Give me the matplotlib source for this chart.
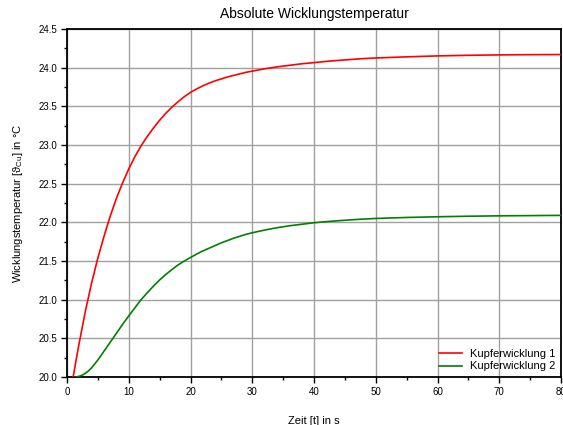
import matplotlib
matplotlib.use("Agg")
import matplotlib.pyplot as plt
from matplotlib.ticker import MultipleLocator, FormatStrFormatter

plt.rcParams['font.family'] = ['Liberation Sans', 'DejaVu Sans']
plt.rcParams['mathtext.fontset'] = 'custom'
plt.rcParams['mathtext.rm'] = 'Liberation Sans'
plt.rcParams['mathtext.it'] = 'Liberation Sans'

t1 = [1, 1.5, 2, 3, 4, 5, 6, 7, 8, 9, 10, 11, 12, 13, 14, 15, 16, 17, 18, 19, 20,
      21, 22, 23, 24, 25, 26, 27, 28, 29, 30, 32, 34, 36, 38, 40, 42.5, 45, 47.5, 50,
      55, 60, 65, 70, 75, 80]
temp1 = [20.0, 20.23, 20.45, 20.86, 21.22, 21.54, 21.82, 22.08, 22.31, 22.51, 22.69,
         22.85, 22.99, 23.11, 23.22, 23.32, 23.41, 23.49, 23.56, 23.625, 23.68,
         23.725, 23.765, 23.80, 23.83, 23.855, 23.88, 23.90, 23.92, 23.94, 23.955,
         23.985, 24.01, 24.03, 24.05, 24.065, 24.085, 24.10, 24.115, 24.125,
         24.14, 24.152, 24.16, 24.165, 24.168, 24.17]
t2 = [1.5, 2, 2.5, 3, 3.5, 4, 4.5, 5, 6, 7, 8, 9, 10, 11, 12, 13, 14, 15, 16, 17, 18,
      19, 20, 21, 22, 23, 24, 25, 26, 27, 28, 29, 30, 32, 34, 36, 38, 40, 42.5, 45,
      47.5, 50, 55, 60, 65, 70, 75, 80]
temp2 = [20.0, 20.01, 20.025, 20.05, 20.08, 20.12, 20.17, 20.22, 20.335, 20.45, 20.565,
         20.68, 20.79, 20.895, 21.0, 21.09, 21.175, 21.255, 21.325, 21.39, 21.45,
         21.5, 21.545, 21.59, 21.63, 21.665, 21.70, 21.735, 21.765, 21.795, 21.82,
         21.845, 21.865, 21.9, 21.93, 21.955, 21.975, 21.995, 22.012, 22.027,
         22.04, 22.05, 22.063, 22.072, 22.079, 22.084, 22.087, 22.09]
labels = ['Kupferwicklung 1', 'Kupferwicklung 2']

fig = plt.figure(figsize=(5.63, 4.25), dpi=100)
ax = fig.add_axes([67/563, 1 - 377/425, (561 - 67)/563, (377 - 29)/425])

ax.plot(t1, temp1, color='#ff0000', lw=1.2, label=labels[0], zorder=3)
ax.plot(t2, temp2, color='#008000', lw=1.2, label=labels[1], zorder=3)

ax.set_xlim(0, 80)
ax.set_ylim(20.0, 24.5)
ax.xaxis.set_major_locator(MultipleLocator(10))
ax.xaxis.set_minor_locator(MultipleLocator(5))
ax.yaxis.set_major_locator(MultipleLocator(0.5))
ax.yaxis.set_minor_locator(MultipleLocator(0.25))
ax.yaxis.set_major_formatter(FormatStrFormatter('%.1f'))
ax.tick_params(which='major', direction='out', length=4, width=1, labelsize=7, pad=3)
ax.tick_params(which='minor', direction='out', length=2, width=1)
ax.grid(True, which='major', color='#a0a0a0', lw=1)
for s in ax.spines.values():
    s.set_linewidth(1.3)

ax.set_title('Absolute Wicklungstemperatur', fontsize=10, pad=8)
ax.set_xlabel('Zeit [t] in s', fontsize=8, labelpad=14)
ax.set_ylabel(r'Wicklungstemperatur [$\mathregular{\vartheta_{Cu}}$] in °C', fontsize=8, labelpad=9.5)

ax.legend(loc='lower right', frameon=False, fontsize=8, handlelength=2.1,
          handletextpad=0.7, labelspacing=0.2, borderaxespad=0.1)

fig.savefig('out.png', dpi=100)
